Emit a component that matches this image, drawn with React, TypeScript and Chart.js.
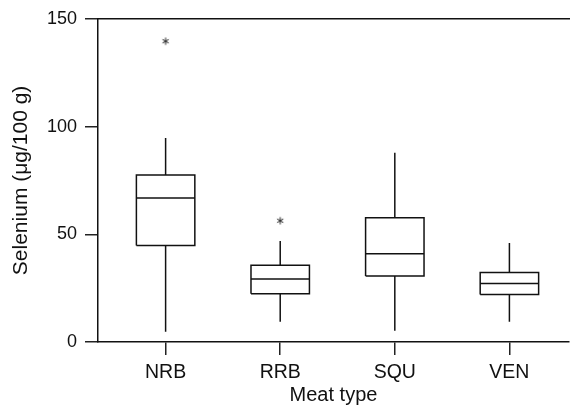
import React, { useEffect, useRef } from 'react';
import { Chart, registerables } from 'chart.js';

Chart.register(...registerables);

// ---- data ----
const categories = ['NRB', 'RRB', 'SQU', 'VEN'];
const whiskerLow = [4.8, 9.4, 5.2, 9.4];
const q1 = [44.8, 22.4, 30.6, 22.1];
const median = [66.8, 29.2, 40.9, 27.2];
const q3 = [77.5, 35.6, 57.7, 32.3];
const whiskerHigh = [94.7, 46.9, 87.8, 46.0];
const outlierCategory = ['NRB', 'RRB'];
const outlierValue = [139.6, 56.3];
const yTicks = [0, 50, 100, 150];

const FONT = '"Liberation Sans", Arial, Helvetica, sans-serif';
const INK = '#111111';
const BOX_HALF = 0.255;
const X_MIN = 0.41;
const X_MAX = 4.52;

function makeAsterisk(): HTMLCanvasElement {
  const c = document.createElement('canvas');
  c.width = 10;
  c.height = 10;
  const g = c.getContext('2d')!;
  g.strokeStyle = '#222';
  g.lineWidth = 1;
  g.lineCap = 'butt';
  const cx = 5, cy = 5, r = 3.6;
  for (let k = 0; k < 3; k++) {
    const a = Math.PI / 2 + (k * Math.PI) / 3;
    g.beginPath();
    g.moveTo(cx - r * Math.cos(a), cy - r * Math.sin(a));
    g.lineTo(cx + r * Math.cos(a), cy + r * Math.sin(a));
    g.stroke();
  }
  return c;
}

export default function App() {
  const ref = useRef<HTMLCanvasElement>(null);

  useEffect(() => {
    document.body.style.margin = '0';
    if (!ref.current) return;
    const lineStyle = {
      showLine: true,
      pointRadius: 0,
      pointHoverRadius: 0,
      borderColor: INK,
      borderWidth: 1.5,
      fill: false,
      tension: 0,
    };
    const datasets: any[] = [];
    categories.forEach((c, i) => {
      const x = i + 1;
      datasets.push({
        ...lineStyle,
        label: c + ' box',
        data: [
          { x: x - BOX_HALF, y: q1[i] },
          { x: x + BOX_HALF, y: q1[i] },
          { x: x + BOX_HALF, y: q3[i] },
          { x: x - BOX_HALF, y: q3[i] },
          { x: x - BOX_HALF, y: q1[i] },
        ],
      });
      datasets.push({
        ...lineStyle,
        label: c + ' median',
        data: [
          { x: x - BOX_HALF, y: median[i] },
          { x: x + BOX_HALF, y: median[i] },
        ],
      });
      datasets.push({
        ...lineStyle,
        label: c + ' upper whisker',
        data: [
          { x, y: q3[i] },
          { x, y: whiskerHigh[i] },
        ],
      });
      datasets.push({
        ...lineStyle,
        label: c + ' lower whisker',
        data: [
          { x, y: q1[i] },
          { x, y: whiskerLow[i] },
        ],
      });
    });
    datasets.push({
      label: 'outliers',
      showLine: false,
      pointStyle: makeAsterisk(),
      pointRadius: 5,
      data: outlierCategory.map((c, k) => ({ x: categories.indexOf(c) + 1, y: outlierValue[k] })),
    });

    const tickFontY = { family: FONT, size: 18 };
    const tickFontX = { family: FONT, size: 19.5 };
    const xTitleFont = { family: FONT, size: 20 };
    const yTitleFont = { family: FONT, size: 21 };

    const chart = new Chart(ref.current, {
      type: 'scatter',
      data: { datasets },
      options: {
        animation: false,
        responsive: false,
        events: [],
        layout: { padding: { top: 14, right: 0, left: 0, bottom: 0 } },
        plugins: { legend: { display: false }, tooltip: { enabled: false } },
        scales: {
          x: {
            type: 'linear',
            position: 'bottom',
            min: X_MIN,
            max: X_MAX,
            afterBuildTicks: (s: any) => {
              s.ticks = categories.map((_, i) => ({ value: i + 1 }));
            },
            afterFit: (s: any) => {
              s.height = 74;
              s.paddingLeft = 0;
              s.paddingRight = 0;
            },
            ticks: {
              autoSkip: false,
              maxRotation: 0,
              color: INK,
              font: tickFontX,
              padding: 6,
              callback: (v: any) => categories[Math.round(Number(v)) - 1] ?? '',
            },
            grid: { drawOnChartArea: false, drawTicks: true, tickLength: 13, color: '#222', lineWidth: 1.5 },
            border: { display: true, color: INK, width: 1.5 },
            title: { display: true, text: 'Meat type', color: INK, font: xTitleFont, padding: { top: 0, bottom: 9 } },
          },
          x2: {
            type: 'linear',
            position: 'top',
            min: X_MIN,
            max: X_MAX,
            afterFit: (s: any) => {
              s.height = 0;
              s.paddingLeft = 0;
              s.paddingRight = 0;
            },
            ticks: { display: false },
            grid: { display: false, drawTicks: false },
            border: { display: true, color: INK, width: 1.5 },
          },
          y: {
            type: 'linear',
            min: 0,
            max: 150,
            afterBuildTicks: (s: any) => {
              s.ticks = yTicks.map((v) => ({ value: v }));
            },
            afterFit: (s: any) => {
              s.width = 98;
            },
            ticks: { color: INK, font: tickFontY, padding: 8 },
            grid: { drawOnChartArea: false, drawTicks: true, tickLength: 13, color: '#222', lineWidth: 1.5 },
            border: { display: true, color: INK, width: 1.5 },
            title: { display: true, text: 'Selenium (μg/100 g)', color: INK, font: yTitleFont, padding: { top: 9, bottom: 0 } },
          },
        },
      } as any,
    });
    return () => chart.destroy();
  }, []);

  return (
    <div style={{ position: 'absolute', left: 0, top: 0, width: 575, height: 416, background: '#fff' }}>
      <canvas ref={ref} width={575} height={416} />
    </div>
  );
}
